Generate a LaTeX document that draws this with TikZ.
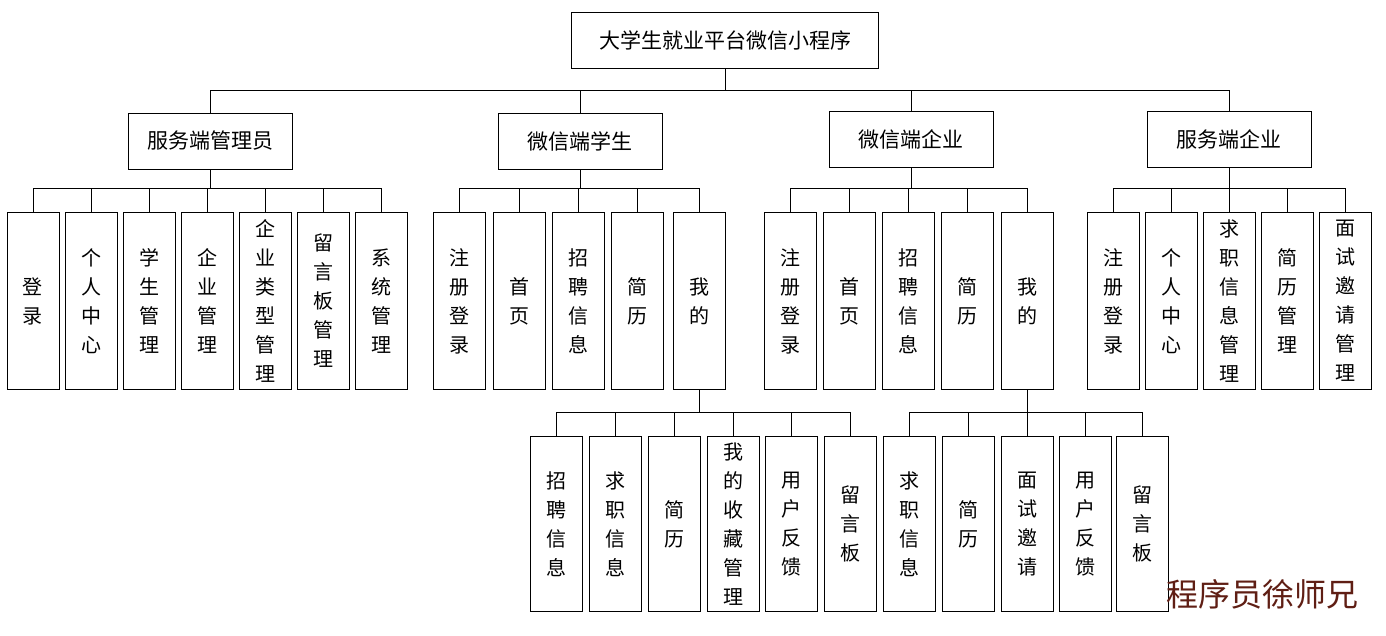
\documentclass[tikz,border=0pt]{standalone}
\usepackage{fontspec}
\setmainfont{Noto Sans CJK SC}
\usetikzlibrary{positioning}
\definecolor{markred}{RGB}{95,30,20}
\tikzstyle{line} = [draw, line width=0.9pt]
\tikzstyle{rootbox} = [rectangle, draw, line width=0.9pt, minimum width=307pt, minimum height=56pt, font=\fontsize{21}{26}\selectfont]
\tikzstyle{rolebox} = [rectangle, draw, line width=0.9pt, minimum width=164pt, minimum height=56pt, font=\fontsize{21}{26}\selectfont]
\tikzstyle{leaf} = [rectangle, draw, line width=0.9pt, anchor=north, minimum width=52pt, minimum height=177pt, align=center, inner sep=0pt, font=\fontsize{20}{29}\selectfont]
\tikzstyle{subleaf} = [leaf, minimum height=175pt]

\begin{document}
\begin{tikzpicture}[x=1pt, y=-1pt]
		\useasboundingbox (0,0) rectangle (1386,636);
		\node [rootbox] (root) at (725,40) {大学生就业平台微信小程序};
		
		\node [rolebox] (admin) at (210,141) {服务端管理员};
		\node [rolebox] (stu) at (580,141) {微信端学生};
		\node [rolebox] (ent) at (911,139) {微信端企业};
		\node [rolebox] (srv) at (1229,139) {服务端企业};
		
		\coordinate (bus0) at (0,90);
		\coordinate (bus1) at (0,188);
		\coordinate (bus2) at (0,412);
		
		\foreach \r in {admin,stu,ent,srv}
			\path [line] (root.south) |- (\r.north |- bus0) -- (\r.north);
		
		% admin
		\foreach \x/\t [count=\i] in {33/{登\\录},91/{个\\人\\中\\心},149/{学\\生\\管\\理},207/{企\\业\\管\\理},265/{企\\业\\类\\型\\管\\理},323/{留\\言\\板\\管\\理},381/{系\\统\\管\\理}}{
			\node [leaf] (a\i) at (\x,212) {\t};
			\path [line] (admin.south) |- (a\i.north |- bus1) -- (a\i.north);
		}
		% student
		\foreach \x/\t [count=\i] in {459/{注\\册\\登\\录},519/{首\\页},578/{招\\聘\\信\\息},637/{简\\历},699/{我\\的}}{
			\node [leaf] (s\i) at (\x,212) {\t};
			\path [line] (stu.south) |- (s\i.north |- bus1) -- (s\i.north);
		}
		% enterprise
		\foreach \x/\t [count=\i] in {790/{注\\册\\登\\录},849/{首\\页},908/{招\\聘\\信\\息},967/{简\\历},1027/{我\\的}}{
			\node [leaf] (e\i) at (\x,212) {\t};
			\path [line] (ent.south) |- (e\i.north |- bus1) -- (e\i.north);
		}
		% server enterprise
		\foreach \x/\t [count=\i] in {1113/{注\\册\\登\\录},1171/{个\\人\\中\\心},1229/{求\\职\\信\\息\\管\\理},1287/{简\\历\\管\\理},1345/{面\\试\\邀\\请\\管\\理}}{
			\node [leaf] (v\i) at (\x,212) {\t};
			\path [line] (srv.south) |- (v\i.north |- bus1) -- (v\i.north);
		}
		% student / mine
		\foreach \x/\t [count=\i] in {556/{招\\聘\\信\\息},615/{求\\职\\信\\息},674/{简\\历},733/{我\\的\\收\\藏\\管\\理},791/{用\\户\\反\\馈},850/{留\\言\\板}}{
			\node [subleaf] (sm\i) at (\x,436) {\t};
			\path [line] (s5.south) |- (sm\i.north |- bus2) -- (sm\i.north);
		}
		% enterprise / mine
		\foreach \x/\t [count=\i] in {909/{求\\职\\信\\息},968/{简\\历},1027/{面\\试\\邀\\请},1085/{用\\户\\反\\馈},1142/{留\\言\\板}}{
			\node [subleaf] (em\i) at (\x,436) {\t};
			\path [line] (e5.south) |- (em\i.north |- bus2) -- (em\i.north);
		}
		
		\node [text=markred, font=\fontsize{32}{36}\selectfont] (mark) at (1262,594) {程序员徐师兄};
\end{tikzpicture}
\end{document}
